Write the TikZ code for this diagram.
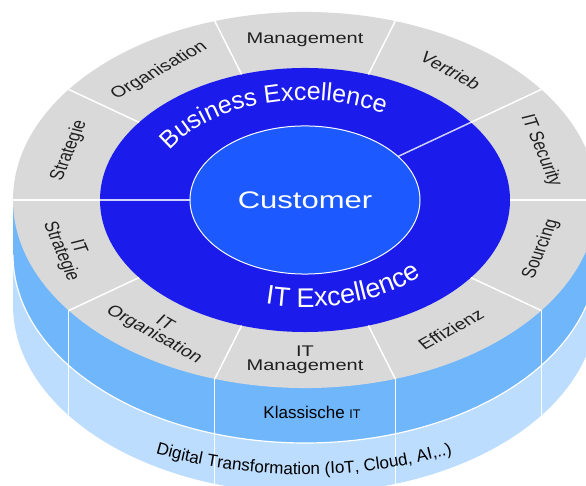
\documentclass[tikz,border=0pt]{standalone}
\usepackage{fontspec}
\setmainfont{Liberation Sans}
\usetikzlibrary{decorations.text}

\definecolor{ringgrey}{RGB}{217,217,217}
\definecolor{bizblue}{RGB}{27,27,236}
\definecolor{custblue}{RGB}{28,90,255}
\definecolor{midband}{RGB}{112,182,251}
\definecolor{lightband}{RGB}{188,221,253}

\newcommand{\arcfont}{\fontsize{25}{25}\selectfont}
\newcommand{\itarcfont}{\fontsize{27}{27}\selectfont}
\newcommand{\bandfont}{\fontsize{17}{17}\selectfont}

\begin{document}
\begin{tikzpicture}[x=1pt, y=1pt]
\useasboundingbox (0,0) rectangle (586,486);
\coordinate (c) at (305,286);

\fill [lightband] ([shift={(c)}]180:292 and 188) -- ++(0,-105) arc [start angle=180, end angle=360, x radius=292, y radius=188] -- ([shift={(c)}]0:292 and 188) -- cycle;
\fill [midband] ([shift={(c)}]180:292 and 188) -- ++(0,-55) arc [start angle=180, end angle=360, x radius=292, y radius=188] -- ([shift={(c)}]0:292 and 188) -- cycle;
\draw [white, line width=1.2pt] ([shift={(c)}]180:292 and 188) ++(0,-55) arc [start angle=180, end angle=360, x radius=292, y radius=188];

\draw [white, line width=1.2pt] ([shift={(c)}]216:292 and 188) -- ++(0,-105);
\draw [white, line width=1.2pt] ([shift={(c)}]252:292 and 188) -- ++(0,-105);
\draw [white, line width=1.2pt] ([shift={(c)}]288:292 and 188) -- ++(0,-105);
\draw [white, line width=1.2pt] ([shift={(c)}]324:292 and 188) -- ++(0,-105);

\begin{scope}[shift={(c)}, yscale=0.644, every node/.style={transform shape, yscale=1.2, inner sep=0pt, align=center, text=black!88, font=\fontsize{20}{18}\selectfont}]
    \fill [ringgrey] (0,0) circle (292);
    \fill [bizblue] (0,0) circle (205);

    \draw [white, line width=1.5pt] (0:205) -- (0:292);
    \draw [white, line width=1.5pt] (36:205) -- (36:292);
    \draw [white, line width=1.5pt] (72:205) -- (72:292);
    \draw [white, line width=1.5pt] (108:205) -- (108:292);
    \draw [white, line width=1.5pt] (144:205) -- (144:292);
    \draw [white, line width=1.5pt] (180:205) -- (180:292);
    \draw [white, line width=1.5pt] (216:205) -- (216:292);
    \draw [white, line width=1.5pt] (252:205) -- (252:292);
    \draw [white, line width=1.5pt] (288:205) -- (288:292);
    \draw [white, line width=1.5pt] (324:205) -- (324:292);

    \draw [white!80!bizblue, line width=1.5pt] (36:115) -- (36:205);
    \draw [white!80!bizblue, line width=1.5pt] (180:115) -- (180:205);

    \filldraw [fill=custblue, draw=white, line width=1pt] (0,0) circle (115);

    \node [rotate=0] (mgmt) at (90:248) {Management};
    \node [rotate=-36] (sales) at (54:248) {Vertrieb};
    \node [rotate=-72] (sec) at (18:248) {IT Security};
    \node [rotate=72] (src) at (342:248) {Sourcing};
    \node [rotate=36] (eff) at (306:248) {Effizienz};
    \node [rotate=0] (itmgmt) at (270:248) {IT\\Management};
    \node [rotate=-36] (itorg) at (234:248) {IT\\Organisation};
    \node [rotate=-72] (itstrat) at (198:248) {IT\\Strategie};
    \node [rotate=72] (strat) at (162:248) {Strategie};
    \node [rotate=36] (org) at (126:248) {Organisation};

    \node [text=white, font=\fontsize{31}{31}\selectfont] (cust) at (0,0) {Customer};
\end{scope}

\path [decorate, decoration={text along path, text align=center, text color=white, text={|\arcfont|Business Excellence}}]
    ([shift={(c)}]175:156 and 100) arc [start angle=175, end angle=40, x radius=156, y radius=100];
\path [decorate, decoration={text along path, text align=center, text color=white, text={|\itarcfont|IT Excellence}}]
    ([shift={(c)}]228:166 and 107) arc [start angle=228, end angle=350, x radius=166, y radius=107];

\node [font=\fontsize{17}{17}\selectfont] (classic) at (312,74) {Klassische {\fontsize{12.5}{12.5}\selectfont IT}};
\path [decorate, decoration={text along path, text align=center, text={|\bandfont|Digital Transformation (IoT, Cloud, AI,..)}}]
    (150,34) .. controls (250,4) and (360,4) .. (458,34);

\end{tikzpicture}
\end{document}
